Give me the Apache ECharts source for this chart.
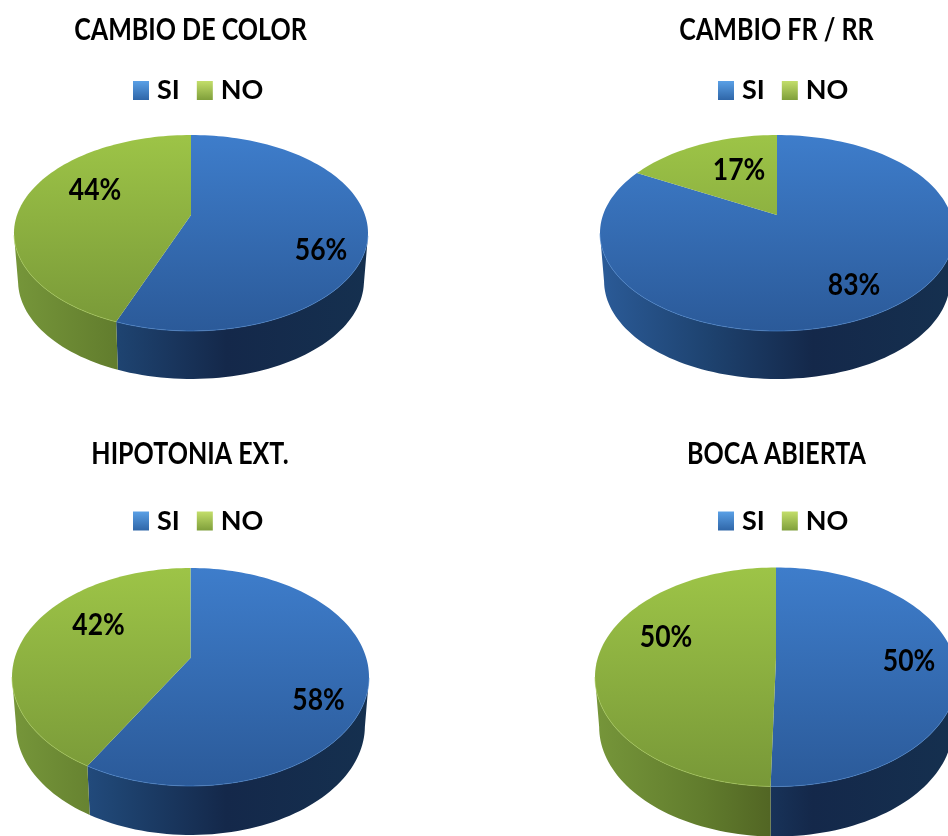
<!DOCTYPE html>
<html>
<head>
<meta charset="utf-8">
<style>html,body{margin:0;padding:0;background:#fff}#c{width:948px;height:836px}</style>
<script src="https://cdn.jsdelivr.net/npm/echarts@6/dist/echarts.min.js"></script>
</head>
<body>
<div id="c"></div>
<script>
// ---- data ----
const chartTitles = ['CAMBIO DE COLOR', 'CAMBIO FR / RR', 'HIPOTONIA EXT.', 'BOCA ABIERTA'];
const legendNames = ['SI', 'NO'];
const siValues = [55.8, 83, 58.3, 50.4];
const noValues = [44.2, 17, 41.7, 49.6];

// ---- layout ----
const FONT = 'Lato, "Open Sans", sans-serif';
const pies = [
  { cx: 191, cy: 233, rx: 177, ry: 98, apex: 18, depth: 48, title: [190.5, 30], legend: [133, 90] },
  { cx: 777, cy: 233, rx: 177, ry: 98, apex: 18, depth: 48, title: [776.5, 30], legend: [718, 90] },
  { cx: 190.5, cy: 677, rx: 178.5, ry: 109, apex: 19, depth: 49, title: [190, 454], legend: [133, 520.5] },
  { cx: 776, cy: 677, rx: 181, ry: 109.5, apex: 19, depth: 50, title: [776.5, 454], legend: [718, 520.5] }
];
// where Office placed each percentage, relative to the ellipse centre: [SI, NO]
const labelOffsets = [
  [[130, 17], [-96, -43]],
  [[77, 52], [-38, -63]],
  [[128, 23], [-92, -52]],
  [[133, -16], [-110, -40]]
];
const palette = {
  SI: {
    top: ['#3e7dcb', '#2b5a99'],
    wall: [[0, '#2b5b98'], [0.3, '#1e4370'], [0.6, '#14284a'], [1, '#15304f']],
    rim: '#4a86cf',
    key: ['#5aa0e6', '#2f66a8']
  },
  NO: {
    top: ['#9dc447', '#789838'],
    wall: [[0, '#76963a'], [0.3, '#617c2d'], [0.58, '#4a5a1f'], [1, '#4a5a1f']],
    rim: '#a9cc5a',
    key: ['#c3de6a', '#7f9f3b']
  }
};

// Perspective projection of the pie disc: true angle (percent) -> offset from ellipse centre
function project(p, pct) {
  const t = pct / 100 * Math.PI * 2;
  const u = Math.sin(t), v = -Math.cos(t);
  const k = p.apex / p.ry;
  const d = 1 - k * v;
  return [p.rx * Math.sqrt(1 - k * k) * u / d, (p.ry * v - p.apex) / d];
}

function renderSlice(params, api) {
  const idx = api.value(0), value = api.value(1);
  const name = legendNames[params.seriesIndex];
  const style = palette[name];
  const p = pies[idx];
  const start = params.seriesIndex === 0 ? 0 : 100 - value;
  const end = start + value;
  const steps = Math.max(2, Math.ceil(value * 2));
  const arc = [];
  for (let i = 0; i <= steps; i++) arc.push(project(p, start + (end - start) * i / steps));

  const topPts = [[p.cx, p.cy - p.apex]].concat(arc.map(a => [p.cx + a[0], p.cy + a[1]]));
  const front = arc.filter(a => a[1] >= 0);
  const children = [];
  if (front.length > 1) {
    const upper = front.map(a => [p.cx + a[0], p.cy + a[1]]);
    const lower = front.map(a => [p.cx + a[0] * 0.977, p.cy + a[1] + p.depth]).reverse();
    children.push({
      type: 'polygon',
      shape: { points: upper.concat(lower) },
      style: {
        fill: {
          type: 'linear', global: true,
          x: p.cx - p.rx, y: 0, x2: p.cx + p.rx, y2: 0,
          colorStops: style.wall.map(s => ({ offset: s[0], color: s[1] }))
        }
      }
    });
  }
  children.push({
    type: 'polygon',
    shape: { points: topPts },
    style: {
      fill: {
        type: 'linear', global: true,
        x: 0, y: p.cy - p.ry, x2: 0, y2: p.cy + p.ry,
        colorStops: [
          { offset: 0, color: style.top[0] },
          { offset: 1, color: style.top[1] }
        ]
      }
    }
  });
  if (front.length > 1) {
    children.push({
      type: 'polyline',
      shape: { points: front.map(a => [p.cx + a[0], p.cy + a[1]]) },
      style: { stroke: style.rim, lineWidth: 1, fill: null, opacity: 0.6 }
    });
  }
  const off = labelOffsets[idx][params.seriesIndex];
  children.push({
    type: 'text',
    x: p.cx + off[0], y: p.cy + off[1],
    scaleX: 1.02, scaleY: 1.2,
    style: {
      text: Math.round(value) + '%',
      fill: '#000', font: 'bold 26px ' + FONT,
      align: 'center', verticalAlign: 'middle'
    }
  });
  return { type: 'group', children };
}

const legendKey = name => ({
  type: 'linear', x: 0, y: 0, x2: 0, y2: 1,
  colorStops: [
    { offset: 0, color: palette[name].key[0] },
    { offset: 1, color: palette[name].key[1] }
  ]
});

const option = {
  backgroundColor: '#fff',
  animation: false,
  graphic: pies.map((p, i) => ({
    type: 'text',
    x: p.title[0], y: p.title[1],
    scaleX: 0.895, scaleY: 1.1,
    silent: true,
    style: {
      text: chartTitles[i],
      font: 'bold 28px ' + FONT, fill: '#000',
      align: 'center', verticalAlign: 'middle'
    }
  })),
  legend: pies.map(p => ({
    left: p.legend[0], top: p.legend[1] - 13,
    padding: 0, itemGap: 17, itemWidth: 16, itemHeight: 19,
    selectedMode: false, icon: 'rect',
    textStyle: { fontFamily: FONT, fontWeight: 'bold', fontSize: 27, color: '#000', padding: [0, 0, 0, 3] },
    data: legendNames.map(n => ({ name: n, itemStyle: { color: legendKey(n), borderWidth: 0 } }))
  })),
  series: [
    { type: 'custom', name: 'SI', coordinateSystem: 'none', renderItem: renderSlice, silent: true,
      itemStyle: { color: palette.SI.top[0] },
      data: siValues.map((v, i) => [i, v]) },
    { type: 'custom', name: 'NO', coordinateSystem: 'none', renderItem: renderSlice, silent: true,
      itemStyle: { color: palette.NO.top[0] },
      data: noValues.map((v, i) => [i, v]) }
  ]
};
echarts.init(document.getElementById('c'), null, { renderer: 'canvas' }).setOption(option);
</script>
</body>
</html>
